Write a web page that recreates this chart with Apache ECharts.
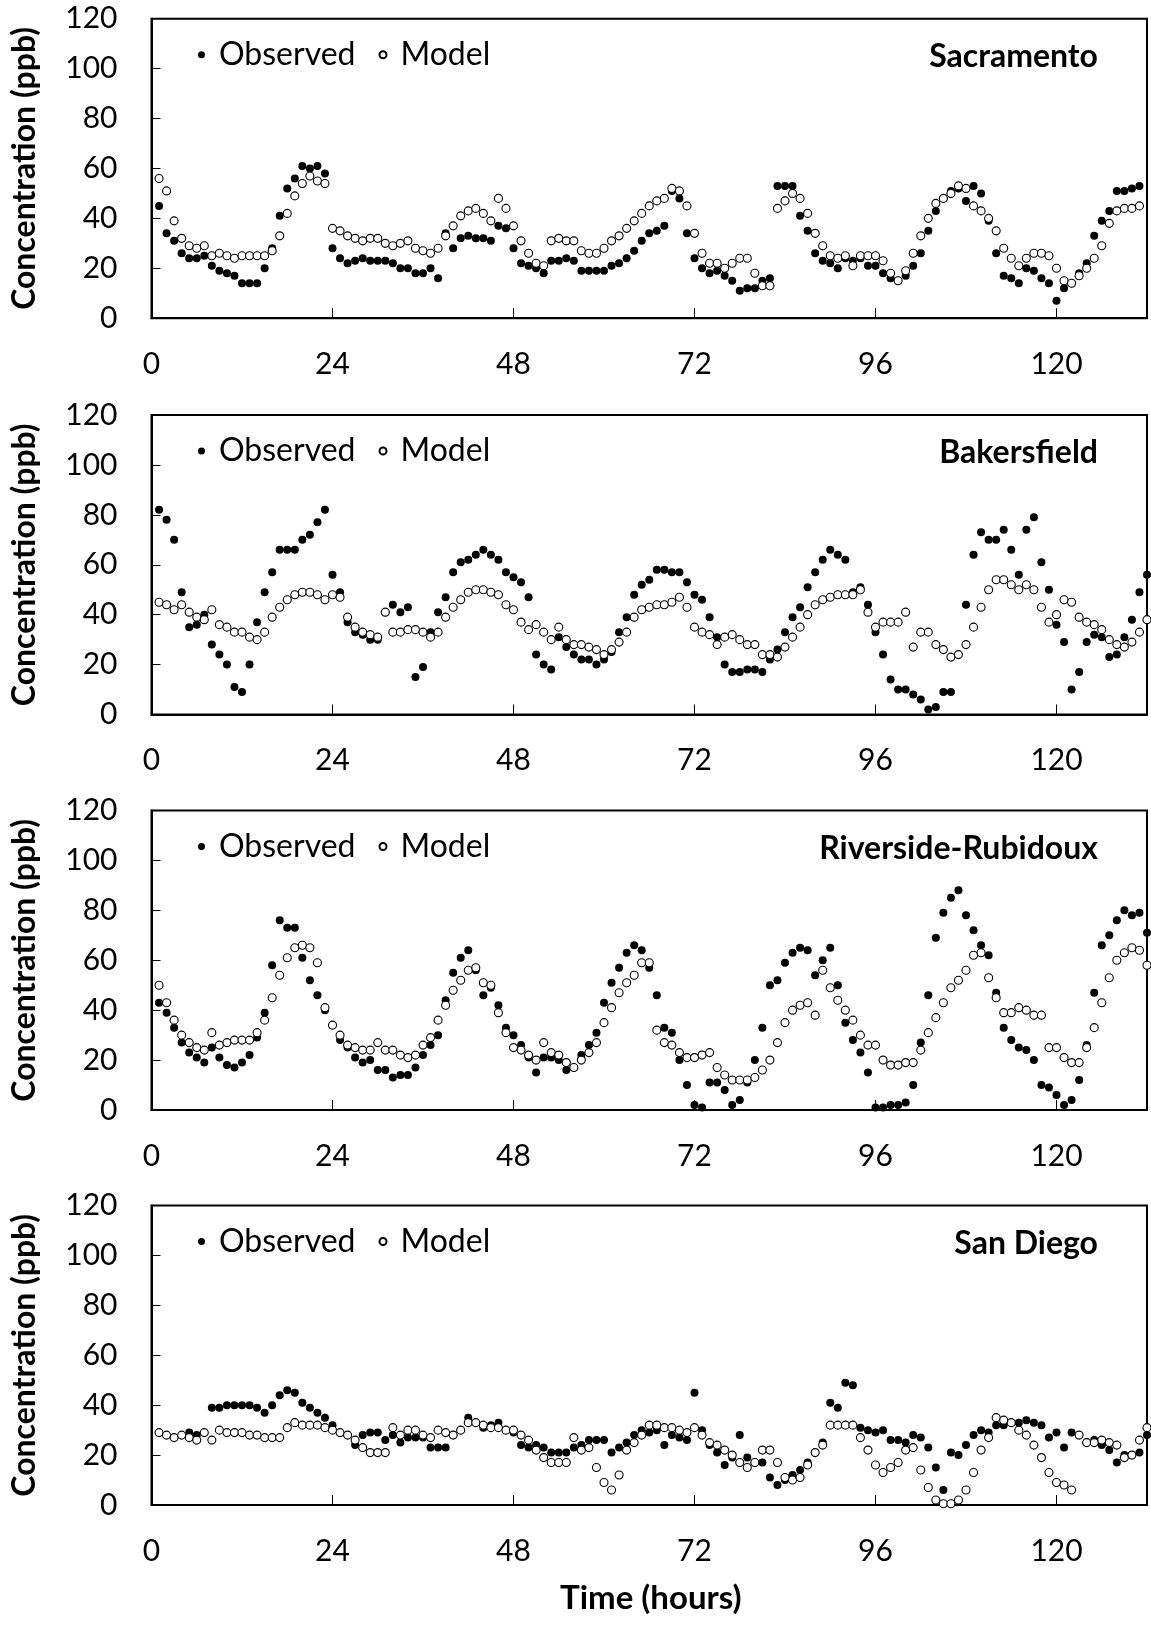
<!DOCTYPE html>
<html>
<head>
<meta charset="utf-8">
<script src="https://cdn.jsdelivr.net/npm/echarts@6/dist/echarts.min.js"></script>
<style>
html,body{margin:0;padding:0;background:#fff;}
#chart{width:1151px;height:1627px;}
</style>
</head>
<body>
<div id="chart"></div>
<script>
// Hour index (1..132)
const hours = Array.from({length: 132}, (_, i) => i + 1);
const xTicks = [0, 24, 48, 72, 96, 120];
const yTicks = [0, 20, 40, 60, 80, 100, 120];
const stations = ['Sacramento', 'Bakersfield', 'Riverside-Rubidoux', 'San Diego'];

const sacObs = [45,34,31,26,24,24,25,21,19,18,17,14,14,14,20,28,41,52,56,61,60,61,58,28,24,22,23,24,23,23,23,22,20,20,18,18,20,16,34,28,32,33,32,32,31,37,36,28,22,21,20,18,23,23,24,23,19,19,19,19,21,22,24,27,31,34,35,37,51,48,34,24,20,18,19,17,15,11,12,12,15,16,53,53,53,41,35,26,23,22,20,24,23,24,21,21,18,16,15,17,21,26,35,43,48,51,52,47,53,50,39,26,17,16,14,20,19,16,14,7,12,14,18,22,33,39,43,51,51,52,53,null];
const sacMod = [56,51,39,32,29,28,29,25,26,25,24,25,25,25,25,27,33,42,49,54,57,55,54,36,35,33,32,31,32,32,30,29,30,31,28,27,26,28,33,37,41,43,44,42,39,48,44,37,31,26,22,21,31,32,31,31,27,26,26,28,31,33,36,39,42,45,47,48,52,51,45,34,26,22,22,20,22,24,24,18,13,13,44,47,50,48,42,34,29,25,24,25,21,25,25,25,23,18,15,19,26,33,40,46,48,50,53,52,45,43,40,35,28,24,21,24,26,26,25,20,15,14,17,20,24,29,38,43,44,44,45,null];

const bakObs = [82,78,70,49,35,36,40,28,24,20,11,9,20,37,49,57,66,66,66,70,72,77,82,56,49,37,33,32,30,30,41,44,41,43,15,19,33,41,47,57,61,62,64,66,64,62,57,55,53,47,24,20,18,31,27,24,22,22,20,22,25,33,39,48,52,54,58,58,57,57,53,48,46,39,31,20,17,17,18,18,17,22,26,33,39,43,51,57,62,66,64,62,49,51,44,33,24,14,10,10,8,6,2,3,9,9,null,44,64,73,70,70,74,66,56,74,79,61,50,36,29,10,17,29,32,31,23,24,31,38,49,56];
const bakMod = [45,44,42,44,41,39,38,42,36,35,33,33,31,30,33,39,43,46,48,49,49,48,46,48,47,39,35,33,32,31,41,33,33,34,34,33,31,33,39,43,46,49,50,50,49,48,44,42,37,34,36,33,30,35,30,28,28,27,26,24,26,29,33,39,42,43,44,44,45,47,43,35,33,32,28,31,32,30,28,28,24,24,23,27,31,35,40,44,46,47,48,48,48,50,41,35,37,37,37,41,27,33,33,28,26,23,24,28,35,43,50,54,54,52,50,52,50,43,37,40,46,45,39,37,36,34,30,28,27,29,33,38];

const rivObs = [43,39,33,27,23,21,19,25,21,18,17,19,22,29,39,58,76,73,73,61,52,46,40,34,28,25,21,19,20,16,16,13,14,14,17,22,26,30,44,55,61,64,56,46,49,42,33,30,26,21,15,21,21,20,16,17,22,26,31,43,51,57,63,66,64,57,46,33,31,20,10,2,1,11,11,8,2,4,11,20,33,50,52,59,63,65,64,54,60,65,50,35,28,23,15,1,1,2,2,3,10,27,46,69,79,85,88,78,72,66,62,47,33,28,25,24,20,10,9,6,2,4,12,26,47,66,70,76,80,78,79,71];
const rivMod = [50,43,36,30,27,25,24,31,26,27,28,28,28,31,36,45,54,61,65,66,65,59,41,34,30,26,25,24,24,27,24,24,22,21,22,26,29,36,42,48,52,56,57,51,50,39,31,25,24,22,20,27,23,22,19,17,20,23,27,35,41,47,51,54,59,59,32,27,26,23,21,21,22,23,17,14,12,12,12,13,16,20,27,35,40,42,43,38,56,49,44,40,36,30,26,26,20,18,18,19,19,24,31,37,43,49,52,56,62,63,53,45,39,39,41,40,38,38,25,25,21,19,19,25,33,43,53,60,63,65,64,58];

const sdObs = [null,null,null,null,29,28,null,39,39,40,40,40,40,39,37,40,44,46,45,41,39,37,35,32,29,28,24,28,29,29,26,28,25,27,27,27,23,23,23,28,30,35,33,31,32,33,30,29,24,23,24,23,21,21,21,23,24,26,26,26,21,23,25,28,30,29,30,24,28,27,26,45,30,24,21,16,19,28,19,17,17,11,8,10,12,14,17,21,25,41,39,49,48,31,30,29,30,26,26,25,28,27,23,15,6,21,20,24,28,30,29,32,32,33,33,34,33,32,27,29,23,29,28,25,26,24,22,17,20,20,21,28];
const sdMod = [29,28,27,28,27,26,29,26,30,29,29,29,28,28,27,27,27,31,33,32,32,32,31,30,29,28,26,23,21,21,21,31,28,30,30,28,27,30,29,28,30,33,33,32,31,31,30,30,28,26,22,19,17,17,17,27,22,23,15,9,6,12,22,25,28,32,32,31,31,30,29,31,28,25,24,22,20,17,15,17,22,22,17,11,10,11,16,21,24,32,32,32,32,27,22,16,13,15,17,22,23,14,7,2,0.5,0.5,2,6,13,22,27,35,34,33,30,28,24,19,13,9,8,6,28,25,25,26,25,24,19,20,26,31];

const obsSets = [sacObs, bakObs, rivObs, sdObs];
const modSets = [sacMod, bakMod, rivMod, sdMod];

const FONT = 'Lato, "Open Sans", sans-serif';
const gridTops = [18.7, 415, 810.5, 1205.5];
const gridLeft = 151.5, gridWidth = 995.5, gridHeight = 299.5;

function pairs(vals) {
  const out = [];
  hours.forEach((h, i) => { if (vals[i] !== null && vals[i] !== undefined) out.push([h, vals[i]]); });
  return out;
}

const grid = [], xAxis = [], yAxis = [], series = [], legend = [], title = [];
stations.forEach((name, k) => {
  grid.push({left: gridLeft, top: gridTops[k], width: gridWidth, height: gridHeight,
    show: true, borderColor: '#000', borderWidth: 2, backgroundColor: 'transparent', containLabel: false});
  xAxis.push({type: 'value', gridIndex: k, min: 0, max: 132, interval: 24,
    axisLine: {show: true, onZero: false, lineStyle: {color: '#000', width: 2}},
    axisTick: {show: true, inside: true, length: 10, lineStyle: {color: '#000', width: 1}},
    axisLabel: {show: true, color: '#000', fontSize: 30, fontFamily: FONT, margin: 31, showMaxLabel: false,
      formatter: v => (xTicks.indexOf(v) >= 0 ? String(v) : '')},
    splitLine: {show: false}});
  yAxis.push({type: 'value', gridIndex: k, min: 0, max: 120, interval: 20,
    name: 'Concentration (ppb)', nameLocation: 'middle', nameGap: 111,
    nameTextStyle: {color: '#000', fontSize: 32, fontWeight: 'bold', fontFamily: FONT},
    axisLine: {show: true, lineStyle: {color: '#000', width: 2}},
    axisTick: {show: true, inside: true, length: 9, lineStyle: {color: '#000', width: 1}},
    axisLabel: {show: true, color: '#000', fontSize: 30, fontFamily: FONT, margin: 34,
      formatter: v => (yTicks.indexOf(v) >= 0 ? String(v) : '')},
    splitLine: {show: false}});
  series.push({type: 'scatter', name: 'Observed', xAxisIndex: k, yAxisIndex: k,
    data: pairs(obsSets[k]), symbol: 'circle', symbolSize: 8,
    itemStyle: {color: '#000', opacity: 1}, emphasis: {disabled: true}, z: 2});
  series.push({type: 'scatter', name: 'Model', xAxisIndex: k, yAxisIndex: k,
    data: pairs(modSets[k]), symbol: 'circle', symbolSize: 8,
    itemStyle: {color: '#fff', borderColor: '#000', borderWidth: 1.1, opacity: 1}, emphasis: {disabled: true}, z: 3});
  legend.push({data: [{name: 'Observed', icon: 'circle'}, {name: 'Model', icon: 'circle'}],
    left: 193, top: gridTops[k] + 15, itemWidth: 7, itemHeight: 7, itemGap: 23,
    selectedMode: false, orient: 'horizontal',
    textStyle: {color: '#000', fontSize: 32, fontFamily: FONT, padding: [0, 0, 0, 9]}});
  title.push({text: name, right: 48, top: gridTops[k] + 17,
    textStyle: {color: '#000', fontSize: 32, fontWeight: 'bold', fontFamily: FONT}});
});

const chart = echarts.init(document.getElementById('chart'), null, {renderer: 'canvas'});
chart.setOption({
  animation: false,
  backgroundColor: '#fff',
  title: title,
  legend: legend,
  grid: grid,
  xAxis: xAxis,
  yAxis: yAxis,
  series: series,
  graphic: [{type: 'text', left: 560, top: 1582,
    style: {text: 'Time (hours)', fill: '#000', font: 'bold 33px ' + FONT}}]
});
</script>
</body>
</html>
